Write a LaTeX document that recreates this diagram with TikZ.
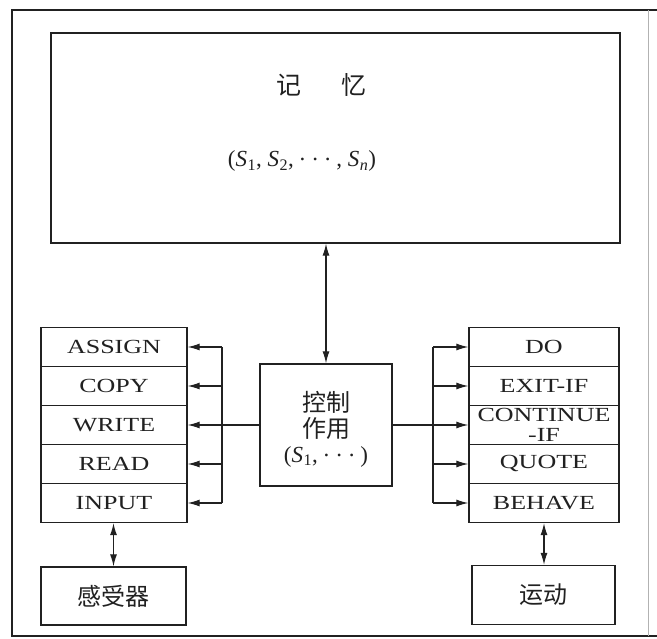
\documentclass[tikz,border=0pt]{standalone}
\usepackage{fontspec}
\setmainfont{Liberation Serif}
\newfontfamily\boxfont[FakeStretch=1.3]{Liberation Serif}
\newfontfamily\cjk{Noto Sans CJK SC}
\usetikzlibrary{arrows.meta}
\definecolor{ink}{rgb}{0.13,0.13,0.13}
\newcommand{\Sv}[1]{\textit{S}\kern0.5pt\textsubscript{#1}}
\newcommand{\sdots}{\raisebox{0.25em}{.}\hspace{0.3em}\raisebox{0.25em}{.}\hspace{0.3em}\raisebox{0.25em}{.}}
\tikzset{
  box/.style={draw=ink, line width=1.3pt, inner sep=0pt, text=ink},
  rowbox/.style={box, minimum width=146pt, minimum height=39pt,
    font=\boxfont\fontsize{20}{20}\selectfont, align=center},
  rrowbox/.style={rowbox, minimum width=150pt},
  cjkbox/.style={box, font=\cjk\fontsize{24}{27}\selectfont},
  conn/.style={draw=ink, line width=1.2pt},
  arr/.style={conn, -{Latex[length=12pt,width=7pt]}},
  darr/.style={conn, {Latex[length=12pt,width=7pt]}-{Latex[length=12pt,width=7pt]}},
}
\begin{document}
\begin{tikzpicture}[x=1pt,y=-1pt]
\useasboundingbox (0,0) rectangle (657,639);
\fill[white] (0,0) rectangle (657,639);
% outer frame
\draw[line width=1.5pt, draw=ink] (657,10) -- (12,10) -- (12,636) -- (657,636);
\draw[line width=0.8pt, draw=gray!60] (648,10) -- (648,636);

% memory
\node[box, minimum width=569pt, minimum height=210pt] (mem) at (335.5,138) {};
\node[text=ink, font=\cjk\fontsize{25}{25}\selectfont] (memtitle) at (321,85) {记\hspace{40pt}忆};
\node[text=ink, font=\fontsize{23}{23}\selectfont] (memvars) at (302,161) {(\Sv{1},\ \Sv{2},\ \sdots\ ,\ \Sv{\textit{n}})};

% control
\node[box, minimum width=132pt, minimum height=122pt] (ctrl) at (326,425) {};
\node[text=ink, font=\cjk\fontsize{24}{26}\selectfont, align=center] (ctrltext) at (326,429)
  {控制\\作用\\[-1pt]{\rmfamily\fontsize{23}{23}\selectfont(\Sv{1},\ \sdots\ )}};

% left stack
\node[rowbox] (a1) at (114,347) {ASSIGN};
\node[rowbox] (a2) at (114,386) {COPY};
\node[rowbox] (a3) at (114,425) {WRITE};
\node[rowbox] (a4) at (114,464) {READ};
\node[rowbox] (a5) at (114,503) {INPUT};

% right stack
\node[rrowbox] (b1) at (544,347) {DO};
\node[rrowbox] (b2) at (544,386) {EXIT-IF};
\node[rrowbox] (b3) at (544,425) {CONTINUE\\-IF};
\node[rrowbox] (b4) at (544,464) {QUOTE};
\node[rrowbox] (b5) at (544,503) {BEHAVE};

% sensor / motion
\node[cjkbox, minimum width=145pt, minimum height=58pt] (sensor) at (113.5,596) {感受器};
\node[cjkbox, minimum width=143pt, minimum height=59pt] (motion) at (543.5,595) {运动};

% buses
\coordinate (lbus) at (222,425);
\coordinate (rbus) at (433,425);

% memory <-> control
\draw[darr] (ctrl.north) -- (ctrl.north |- mem.south);

% left bus
\draw[conn] (a1.east -| lbus) -- (a5.east -| lbus);
\draw[arr] (ctrl.west) -- (a3.east);
\foreach \r in {a1,a2,a4,a5} \draw[arr] (\r.east -| lbus) -- (\r.east);

% right bus
\draw[conn] (b1.west -| rbus) -- (b5.west -| rbus);
\draw[arr] (ctrl.east) -- (b3.west);
\foreach \r in {b1,b2,b4,b5} \draw[arr] (\r.west -| rbus) -- (\r.west);

% bottom double arrows
\draw[darr] (a5.south -| sensor.north) -- (sensor.north);
\draw[darr] (b5.south) -- (b5.south |- motion.north);
\end{tikzpicture}
\end{document}
